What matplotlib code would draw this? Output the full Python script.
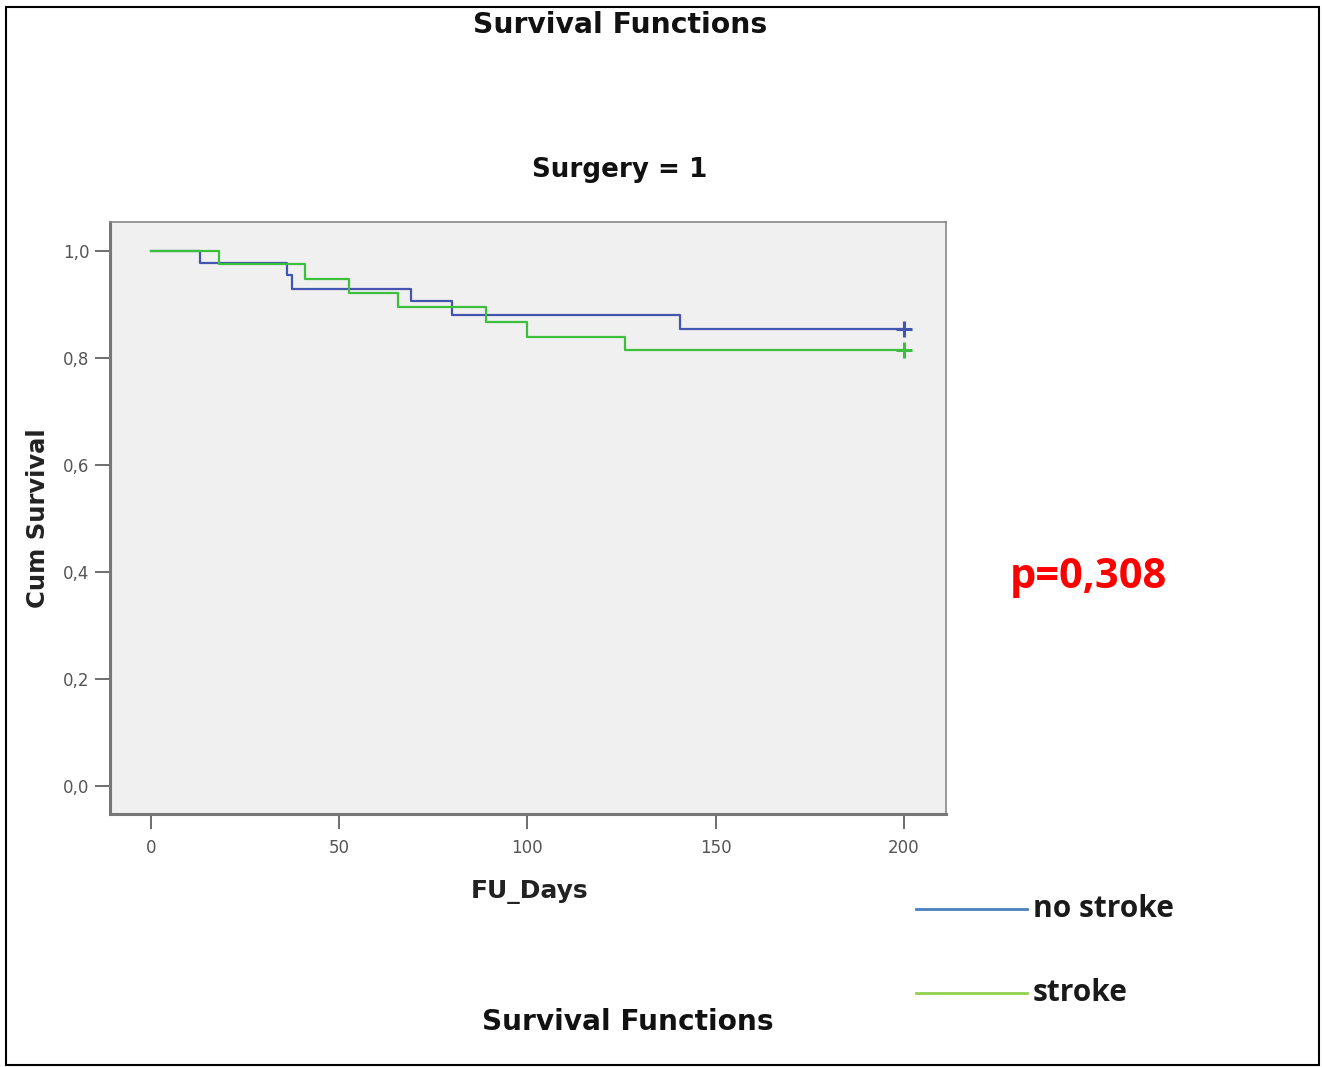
import matplotlib
matplotlib.use("Agg")
import matplotlib.pyplot as plt
from matplotlib.patches import Rectangle

# Data (Kaplan-Meier step functions)
no_stroke_days = [0, 13, 36, 37.5, 69, 80, 140.5, 200]
no_stroke_surv = [1.0, 0.977, 0.955, 0.929, 0.906, 0.881, 0.855, 0.855]
stroke_days = [0, 18, 41, 52.5, 65.5, 89, 100, 126, 200]
stroke_surv = [1.0, 0.975, 0.947, 0.922, 0.895, 0.868, 0.840, 0.814, 0.814]

x_ticks = [0, 50, 100, 150, 200]
y_ticks = [0.0, 0.2, 0.4, 0.6, 0.8, 1.0]
y_tick_labels = ["0,0", "0,2", "0,4", "0,6", "0,8", "1,0"]
legend_labels = ["no stroke", "stroke"]
p_text = "p=0,308"

W, H = 1322, 1067
fig = plt.figure(figsize=(W / 100, H / 100), dpi=100)
fig.patch.set_facecolor("white")

# outer frame
fig.add_artist(Rectangle((6 / W, 1 - 1065 / H), (1319 - 6) / W, (1065 - 7) / H,
                         transform=fig.transFigure, fill=False,
                         edgecolor="black", linewidth=1.5))

ax = fig.add_axes([110 / W, 1 - 814 / H, (946 - 110) / W, (814 - 222) / H])
ax.set_facecolor("#f0f0f0")

blue = "#4455b0"
green = "#3cbf3c"
ax.step(no_stroke_days, no_stroke_surv, where="post", color=blue, lw=1.6, zorder=3)
ax.step(stroke_days, stroke_surv, where="post", color=green, lw=1.6, zorder=3)
ax.plot([no_stroke_days[-1]], [no_stroke_surv[-1]], marker="+", color=blue,
        ms=11, mew=2.2, zorder=4)
ax.plot([stroke_days[-1]], [stroke_surv[-1]], marker="+", color=green,
        ms=11, mew=2.2, zorder=4)

ax.set_xlim(-10.9, 211.2)
ax.set_ylim(-0.052, 1.054)
ax.set_xticks(x_ticks)
ax.set_xticklabels([str(t) for t in x_ticks])
ax.set_yticks(y_ticks)
ax.set_yticklabels(y_tick_labels)
ax.tick_params(axis="both", direction="out", length=11, width=1.2,
               color="#555555", labelcolor="#555555", labelsize=12, pad=4)
ax.tick_params(axis="x", pad=7)

for s in ["left", "bottom"]:
    ax.spines[s].set_color("#777777")
    ax.spines[s].set_linewidth(2.2)
for s in ["top", "right"]:
    ax.spines[s].set_color("#888888")
    ax.spines[s].set_linewidth(1.2)

ax.set_ylabel("Cum Survival", fontsize=17.5, fontweight="bold", color="#222222")
ax.yaxis.set_label_coords(-0.072, 0.5)
ax.set_xlabel("FU_Days", fontsize=18, fontweight="bold", color="#222222")
ax.xaxis.set_label_coords(0.502, -0.112)

fig.text(620 / W, 1 - 25 / H, "Survival Functions", ha="center", va="center",
         fontsize=20.3, fontweight="bold", color="#111111")
fig.text(620 / W, 1 - 170 / H, "Surgery = 1", ha="center", va="center",
         fontsize=18.8, fontweight="bold", color="#111111")
fig.text(628 / W, 1 - 1022 / H, "Survival Functions", ha="center", va="center",
         fontsize=20.2, fontweight="bold", color="#111111")

fig.text(1010 / W, 1 - 578 / H, p_text, ha="left", va="center",
         fontsize=30, fontweight="bold", color="#ff0000",
         family="Open Sans")

# legend drawn manually
leg_colors = ["#4a7fc1", "#92d050"]
leg_y = [909, 993]
for lab, c, yy in zip(legend_labels, leg_colors, leg_y):
    fig.add_artist(plt.Line2D([916 / W, 1027 / W], [1 - yy / H, 1 - yy / H],
                              transform=fig.transFigure, color=c, lw=2))
    fig.text(1033 / W, 1 - yy / H, lab, ha="left", va="center", fontsize=21.5,
             color="#1a1a1a", family="Open Sans", fontweight="bold")

fig.savefig("out.png", dpi=100)
